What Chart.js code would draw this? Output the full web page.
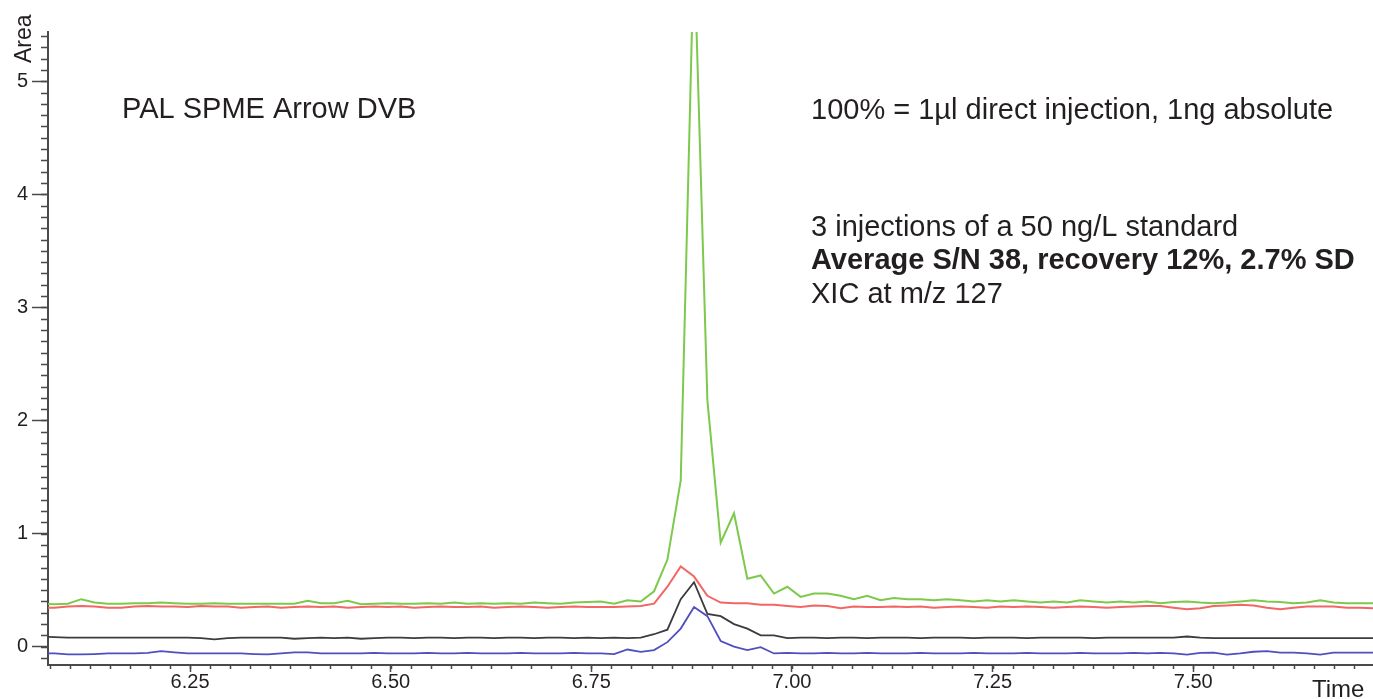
<!DOCTYPE html>
<html>
<head>
<meta charset="utf-8">
<script src="https://cdn.jsdelivr.net/npm/chart.js@4.4.1/dist/chart.umd.min.js"></script>
<style>
  html, body { margin: 0; padding: 0; background: #fff; }
  #wrap { width: 1373px; height: 699px; position: relative; }
</style>
</head>
<body>
<div id="wrap"><canvas id="xic"></canvas></div>
<script>
// scan grid of the XIC traces (min)
const scanStart = 6.0646;
const scanStep = 0.0166;

// m/z 127 traces
const greenArea = [
  0.38, 0.375, 0.38, 0.42, 0.39, 0.38, 0.38, 0.385, 0.385, 0.39,
  0.385, 0.38, 0.38, 0.385, 0.38, 0.38, 0.38, 0.38, 0.38, 0.38,
  0.405, 0.385, 0.385, 0.405, 0.375, 0.38, 0.385, 0.38, 0.38, 0.385,
  0.38, 0.39, 0.38, 0.385, 0.38, 0.385, 0.38, 0.39, 0.385, 0.38,
  0.39, 0.395, 0.40, 0.38, 0.41, 0.40, 0.49, 0.77, 1.47, 6.2,
  2.18, 0.92, 1.18, 0.60, 0.63, 0.47, 0.53, 0.44, 0.47, 0.47,
  0.45, 0.42, 0.45, 0.41, 0.43, 0.42, 0.42, 0.41, 0.42, 0.41,
  0.40, 0.41, 0.40, 0.41, 0.40, 0.39, 0.40, 0.39, 0.41, 0.40,
  0.39, 0.40, 0.39, 0.40, 0.385, 0.395, 0.40, 0.39, 0.385, 0.39,
  0.40, 0.41, 0.40, 0.395, 0.385, 0.39, 0.41, 0.39, 0.385, 0.385,
  0.385
];
const redArea = [
  0.345, 0.345, 0.355, 0.36, 0.355, 0.345, 0.345, 0.355, 0.36, 0.355,
  0.355, 0.35, 0.36, 0.355, 0.355, 0.345, 0.35, 0.355, 0.345, 0.35,
  0.355, 0.35, 0.355, 0.345, 0.35, 0.355, 0.35, 0.355, 0.345, 0.35,
  0.355, 0.35, 0.35, 0.355, 0.345, 0.35, 0.355, 0.35, 0.345, 0.35,
  0.355, 0.35, 0.35, 0.35, 0.355, 0.36, 0.38, 0.53, 0.71, 0.62,
  0.45, 0.39, 0.385, 0.385, 0.37, 0.37, 0.36, 0.35, 0.365, 0.36,
  0.34, 0.355, 0.35, 0.35, 0.355, 0.35, 0.355, 0.345, 0.35, 0.355,
  0.35, 0.345, 0.355, 0.35, 0.355, 0.35, 0.345, 0.35, 0.355, 0.35,
  0.345, 0.35, 0.355, 0.36, 0.36, 0.345, 0.33, 0.34, 0.36, 0.365,
  0.37, 0.365, 0.345, 0.33, 0.345, 0.355, 0.355, 0.355, 0.345, 0.345,
  0.34
];
const blackArea = [
  0.09, 0.085, 0.08, 0.08, 0.08, 0.08, 0.08, 0.08, 0.08, 0.08,
  0.08, 0.08, 0.075, 0.065, 0.075, 0.08, 0.08, 0.08, 0.08, 0.07,
  0.075, 0.08, 0.075, 0.08, 0.07, 0.075, 0.08, 0.08, 0.075, 0.08,
  0.08, 0.075, 0.08, 0.08, 0.075, 0.08, 0.08, 0.075, 0.08, 0.08,
  0.075, 0.08, 0.075, 0.08, 0.075, 0.08, 0.11, 0.15, 0.42, 0.57,
  0.29, 0.27, 0.20, 0.16, 0.10, 0.10, 0.075, 0.08, 0.08, 0.075,
  0.08, 0.08, 0.075, 0.08, 0.08, 0.08, 0.075, 0.08, 0.08, 0.08,
  0.075, 0.08, 0.08, 0.08, 0.075, 0.08, 0.08, 0.08, 0.08, 0.075,
  0.08, 0.08, 0.08, 0.08, 0.08, 0.08, 0.09, 0.08, 0.075, 0.075,
  0.075, 0.075, 0.075, 0.075, 0.075, 0.075, 0.075, 0.075, 0.075, 0.075,
  0.075
];
const blueArea = [
  -0.06, -0.06, -0.068, -0.068, -0.065, -0.06, -0.06, -0.06, -0.055, -0.04,
  -0.05, -0.06, -0.06, -0.06, -0.06, -0.06, -0.065, -0.068, -0.06, -0.05,
  -0.05, -0.06, -0.06, -0.06, -0.06, -0.055, -0.06, -0.06, -0.06, -0.055,
  -0.06, -0.06, -0.055, -0.06, -0.06, -0.06, -0.055, -0.06, -0.06, -0.06,
  -0.055, -0.06, -0.06, -0.065, -0.025, -0.045, -0.03, 0.04, 0.16, 0.35,
  0.27, 0.05, 0.0, -0.03, -0.005, -0.06, -0.055, -0.06, -0.06, -0.055,
  -0.06, -0.06, -0.055, -0.06, -0.06, -0.06, -0.055, -0.06, -0.06, -0.06,
  -0.055, -0.06, -0.06, -0.06, -0.055, -0.06, -0.06, -0.06, -0.055, -0.06,
  -0.06, -0.06, -0.055, -0.06, -0.055, -0.06, -0.07, -0.055, -0.053, -0.07,
  -0.06, -0.045, -0.04, -0.053, -0.053, -0.06, -0.07, -0.053, -0.053, -0.053,
  -0.053
];

const xTickStep = 0.25;
const yTickStep = 1;

const axisColor = '#4a4a4a';
const textColor = '#231f20';
const fontFamily = "'Liberation Sans', Arial, sans-serif";

const toPoints = (values) => values.map((v, i) => ({ x: scanStart + i * scanStep, y: v }));

function trace(values, color, width) {
  return {
    data: toPoints(values),
    borderColor: color,
    borderWidth: width,
    pointRadius: 0,
    tension: 0,
    fill: false
  };
}

// minor ticks + the free text of the figure
const extrasPlugin = {
  id: 'extras',
  afterDraw(chart) {
    const ctx = chart.ctx;
    const xs = chart.scales.x;
    const ys = chart.scales.y;
    ctx.save();
    ctx.strokeStyle = axisColor;
    ctx.lineWidth = 1.5;
    ctx.beginPath();
    for (let k = Math.ceil(xs.min / 0.025); k <= Math.floor(xs.max / 0.025); k++) {
      const px = Math.round(xs.getPixelForValue(k * 0.025)) + 0.5;
      ctx.moveTo(px, xs.top);
      ctx.lineTo(px, xs.top + 4);
    }
    for (let k = Math.ceil(ys.min / 0.1); k <= Math.floor(ys.max / 0.1); k++) {
      const py = Math.round(ys.getPixelForValue(k * 0.1)) + 0.5;
      ctx.moveTo(ys.right - 7, py);
      ctx.lineTo(ys.right, py);
    }
    ctx.stroke();

    ctx.fillStyle = textColor;
    ctx.textBaseline = 'alphabetic';
    ctx.textAlign = 'left';
    ctx.font = '29px ' + fontFamily;
    ctx.fillText('PAL SPME Arrow DVB', 122, 118);
    ctx.fillText('100% = 1µl direct injection, 1ng absolute', 811, 119);
    ctx.fillText('3 injections of a 50 ng/L standard', 811, 236);
    ctx.font = 'bold 29px ' + fontFamily;
    ctx.fillText('Average S/N 38, recovery 12%, 2.7% SD', 811, 269);
    ctx.font = '29px ' + fontFamily;
    ctx.fillText('XIC at m/z 127', 811, 303);

    ctx.font = '24px ' + fontFamily;
    ctx.fillText('Time', 1312, 697);

    ctx.translate(31, 63);
    ctx.rotate(-Math.PI / 2);
    ctx.font = '23px ' + fontFamily;
    ctx.fillText('Area', 0, 0);
    ctx.restore();
  }
};

new Chart(document.getElementById('xic'), {
  type: 'line',
  data: {
    datasets: [
      trace(blueArea, '#4f4fbf', 1.8),
      trace(blackArea, '#3c3c3c', 1.8),
      trace(redArea, '#f26666', 2),
      trace(greenArea, '#7cc94c', 2)
    ]
  },
  options: {
    responsive: true,
    maintainAspectRatio: false,
    animation: false,
    layout: { padding: { top: 32, right: 0, bottom: 0, left: 0 } },
    plugins: { legend: { display: false }, tooltip: { enabled: false } },
    scales: {
      x: {
        type: 'linear',
        min: 6.073,
        max: 7.724,
        afterFit: (s) => { s.height = 34; },
        ticks: {
          stepSize: xTickStep,
          includeBounds: false,
          autoSkip: false,
          maxRotation: 0,
          padding: -2,
          color: textColor,
          font: { family: fontFamily, size: 20 },
          callback: (v) => Number(v).toFixed(2)
        },
        grid: { drawOnChartArea: false, drawTicks: true, tickLength: 7, tickColor: axisColor, tickWidth: 1.5 },
        border: { color: axisColor, width: 2 }
      },
      y: {
        min: -0.162,
        max: 5.435,
        afterFit: (s) => { s.width = 48; },
        ticks: {
          stepSize: yTickStep,
          includeBounds: false,
          padding: 4,
          color: textColor,
          font: { family: fontFamily, size: 20 }
        },
        grid: { drawOnChartArea: false, drawTicks: true, tickLength: 16, tickColor: axisColor, tickWidth: 1.5 },
        border: { color: axisColor, width: 2 }
      }
    }
  },
  plugins: [extrasPlugin]
});
</script>
</body>
</html>
